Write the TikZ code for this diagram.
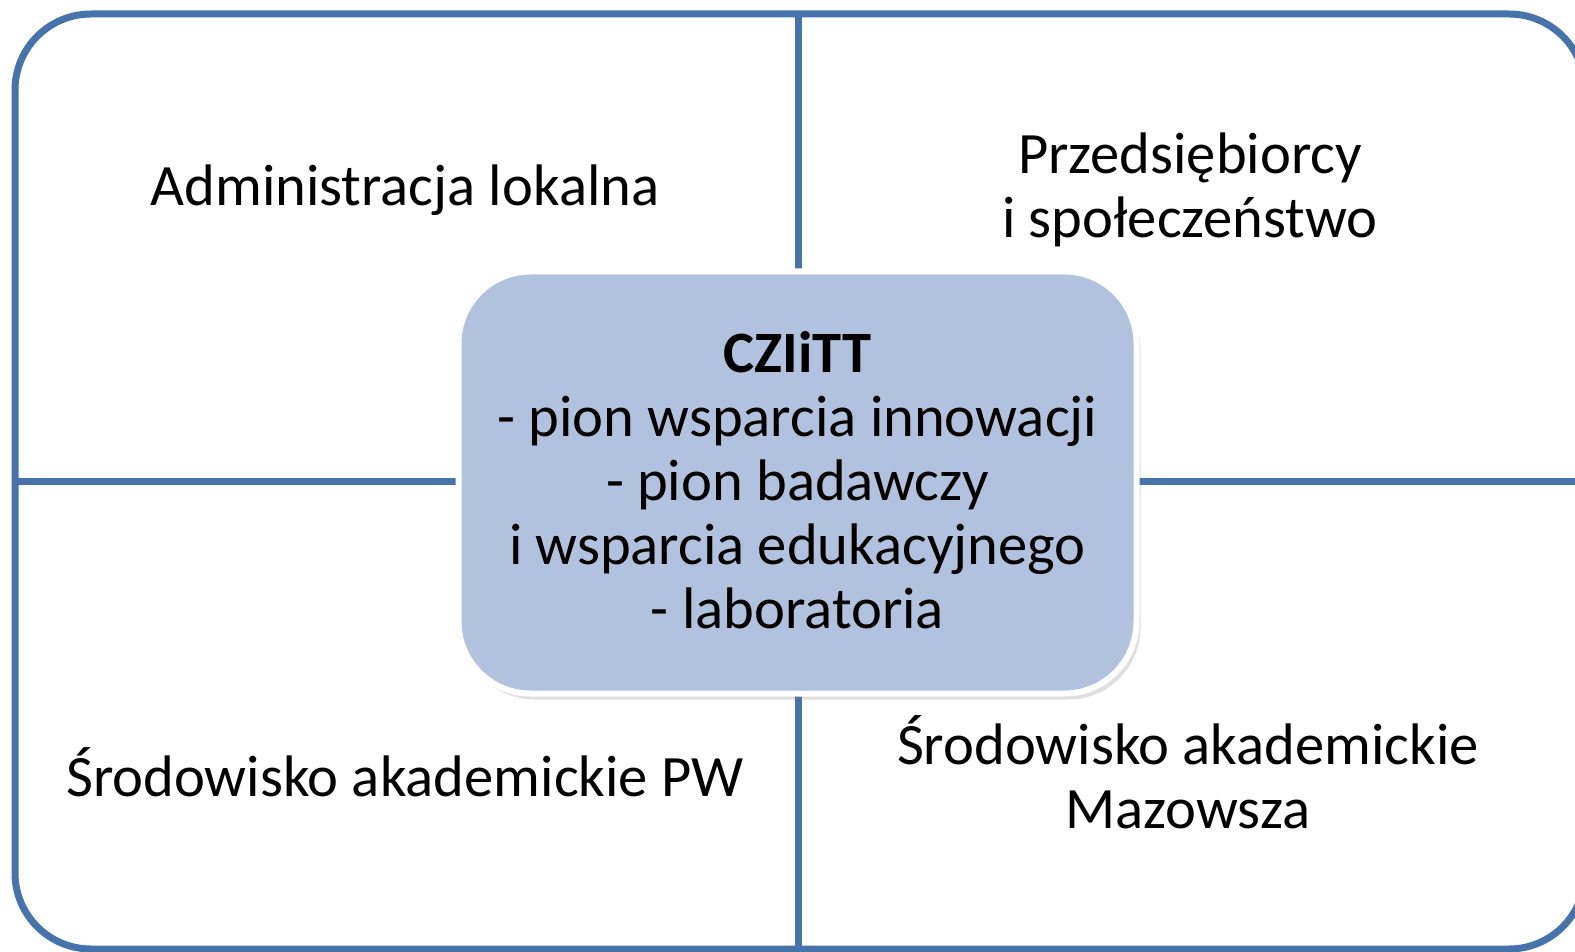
\documentclass[tikz,border=0pt]{standalone}
\usepackage{fontspec}
\setmainfont{Carlito}
\usetikzlibrary{shadows}
\definecolor{frameblue}{RGB}{70,115,170}
\definecolor{boxfill}{RGB}{176,194,221}
\begin{document}
\begin{tikzpicture}[x=0.5pt,y=-0.5pt,
  frameline/.style={draw=frameblue,line width=3.5pt},
  lbl/.style={font=\fontsize{29.3}{32}\selectfont,align=center,inner sep=0pt},
  centerbox/.style={draw=white,line width=3pt,fill=boxfill,rounded corners=36pt,
    drop shadow={shadow xshift=2pt,shadow yshift=-3pt,opacity=0.25}}]
\useasboundingbox (0,0) rectangle (1575,952);
\coordinate (T) at (798,14);
\coordinate (B) at (798,949);
\coordinate (L) at (15,481);
\coordinate (R) at (1585,481);
\draw[frameline] (T) -- (B);
\draw[frameline] (L) -- (R);
\draw[frameline,rounded corners=38pt] (15,14) rectangle (1585,949);
\node[centerbox,minimum width=339pt,minimum height=211pt] (c) at (797.5,482.5) {};
\node[lbl] (ct) at (797.5,480) {\textbf{CZIiTT}\\- pion wsparcia innowacji\\- pion badawczy\\i wsparcia edukacyjnego\\- laboratoria};
\node[lbl] (a) at (405,190) {Administracja lokalna};
\node[lbl] (p) at (1190,190) {Przedsiębiorcy\\i społeczeństwo};
\node[lbl] (s) at (405,772) {Środowisko akademickie PW};
\node[lbl] (m) at (1188,772) {Środowisko akademickie\\Mazowsza};
\end{tikzpicture}
\end{document}
